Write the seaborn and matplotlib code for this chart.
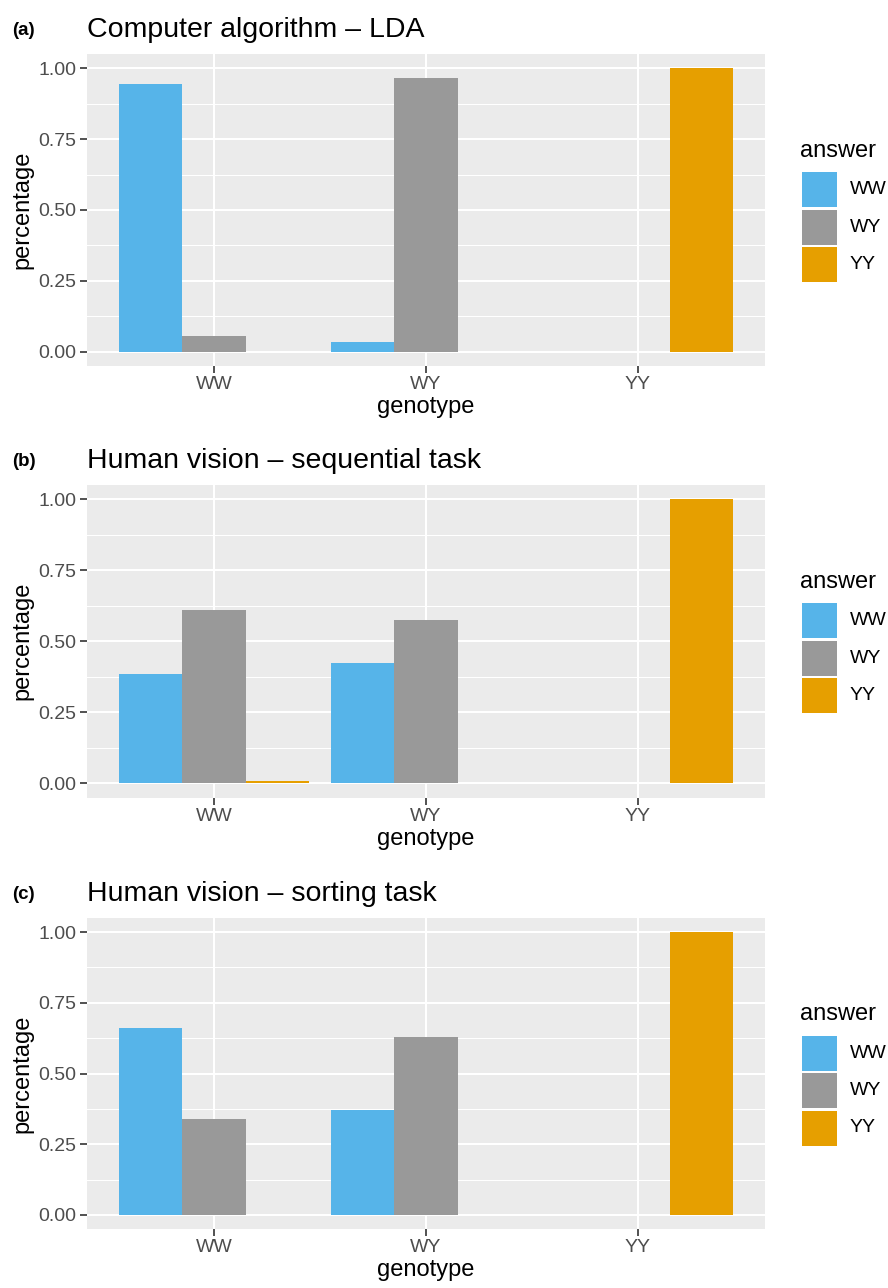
import numpy as np
import pandas as pd
import seaborn as sns
import matplotlib.pyplot as plt
from matplotlib.patches import Rectangle
from matplotlib.ticker import MultipleLocator, FormatStrFormatter

# categories
genotype = ["WW", "WY", "YY"]
answer = ["WW", "WY", "YY"]
palette = ["#56B4E9", "#999999", "#E69F00"]

# share of each answer per genotype
lda_ww = [0.945, 0.035, 0.0]
lda_wy = [0.055, 0.965, 0.0]
lda_yy = [0.0, 0.0, 1.0]

seq_ww = [0.383, 0.425, 0.0]
seq_wy = [0.609, 0.575, 0.0]
seq_yy = [0.008, 0.0, 1.0]

sort_ww = [0.660, 0.370, 0.0]
sort_wy = [0.340, 0.630, 0.0]
sort_yy = [0.0, 0.0, 1.0]

panels = [
    ("(a)", "Computer algorithm \u2013 LDA", [lda_ww, lda_wy, lda_yy]),
    ("(b)", "Human vision \u2013 sequential task", [seq_ww, seq_wy, seq_yy]),
    ("(c)", "Human vision \u2013 sorting task", [sort_ww, sort_wy, sort_yy]),
]

plt.rcParams['font.family'] = ['Liberation Sans', 'DejaVu Sans']

W, H = 888, 1288
fig = plt.figure(figsize=(W / 100, H / 100), dpi=100)

# panel boxes in pixels: (top, bottom)
boxes = [(54, 366), (485, 797.5), (918, 1229)]
left, right = 87, 765

for (tag, title, vals), (top, bot) in zip(panels, boxes):
    ax = fig.add_axes([left / W, 1 - bot / H, (right - left) / W, (bot - top) / H])
    rows = []
    for a, v in zip(answer, vals):
        for g, p in zip(genotype, v):
            rows.append({"genotype": g, "answer": a, "percentage": p})
    df = pd.DataFrame(rows)

    sns.barplot(data=df, x="genotype", y="percentage", hue="answer",
                order=genotype, hue_order=answer, palette=palette,
                width=0.9, saturation=1, linewidth=0, errorbar=None,
                legend=False, ax=ax)

    ax.set_facecolor("#EBEBEB")
    for s in ax.spines.values():
        s.set_visible(False)
    ax.set_xlim(-0.6, 2.6)
    ax.set_ylim(-0.05, 1.05)
    ax.yaxis.set_major_locator(MultipleLocator(0.25))
    ax.yaxis.set_minor_locator(MultipleLocator(0.125))
    ax.yaxis.set_major_formatter(FormatStrFormatter("%.2f"))
    ax.set_axisbelow(True)
    ax.grid(which="major", color="white", linewidth=1.5)
    ax.grid(which="minor", axis="y", color="white", linewidth=0.75)
    ax.tick_params(which="major", length=5, width=1.2, color="#333333",
                   labelcolor="#4D4D4D", labelsize=14, pad=2.5)
    ax.tick_params(which="minor", length=0)
    ax.set_xlabel("genotype", fontsize=17, labelpad=2)
    ax.set_ylabel("percentage", fontsize=17, labelpad=4)

    ax.set_title(title, loc="left", fontsize=20.5, pad=12)
    pw, ph = right - left, bot - top
    ax.text(-75 / pw, 1 + 19 / ph, tag, transform=ax.transAxes,
            fontsize=13.5, fontweight="bold", va="baseline", ha="left")

    # legend drawn on the right, centered on the panel
    mid = (top + bot) / 2
    key_top = mid - 38
    ax.text((800 - left) / pw, (bot - (mid - 53)) / ph, "answer",
            transform=ax.transAxes, fontsize=17, va="baseline", ha="left")
    for i, (a, c) in enumerate(zip(answer, palette)):
        y0 = key_top + i * 37.5
        ax.add_patch(Rectangle(((802 - left) / pw, (bot - y0 - 35) / ph),
                               35 / pw, 35 / ph, transform=ax.transAxes,
                               facecolor=c, edgecolor="none", clip_on=False))
        ax.text((850 - left) / pw, (bot - y0 - 17.5) / ph, a,
                transform=ax.transAxes, fontsize=14, va="center", ha="left")

fig.savefig("out.png", dpi=100)
